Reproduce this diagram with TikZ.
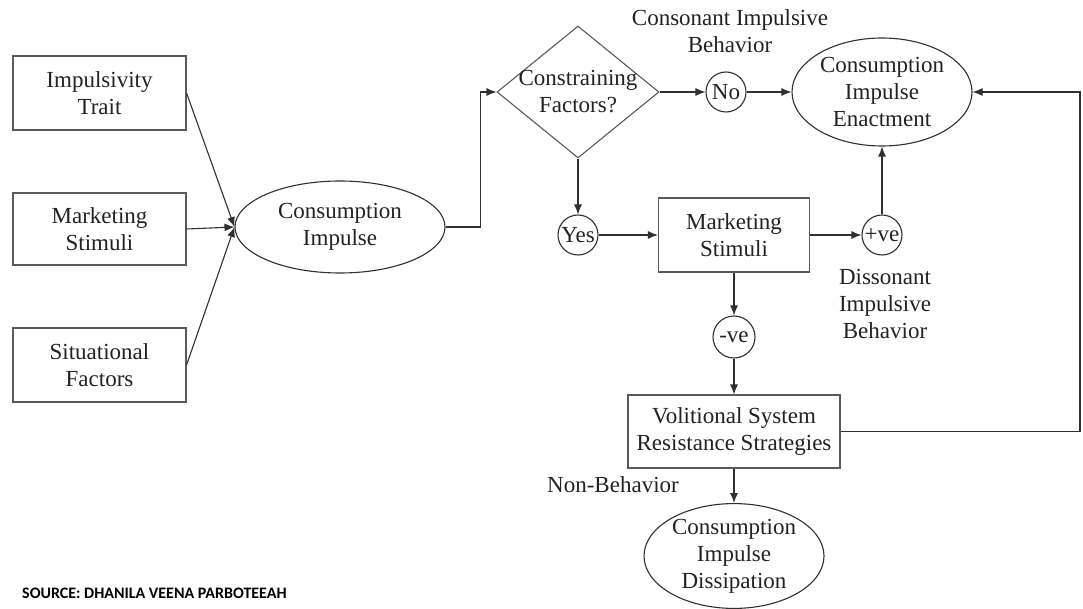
\documentclass[tikz,border=0pt]{standalone}
\usepackage{fontspec}
\setmainfont{Liberation Serif}
\newfontfamily\diagfont{Liberation Serif}
\newfontfamily\srcfont{Carlito}
\usetikzlibrary{shapes.geometric,arrows.meta}
\definecolor{ln}{HTML}{303030}
\definecolor{bx}{HTML}{5A5A5A}
\definecolor{tx}{HTML}{222222}
\begin{document}
\begin{tikzpicture}[x=1pt,y=-1pt,
  every node/.style={align=center, inner sep=0pt, text=tx, font=\diagfont\fontsize{23}{27}\selectfont},
  boxnode/.style={draw=bx, line width=1.1pt, rectangle},
  ellnode/.style={draw=ln, line width=1.1pt, ellipse},
  circnode/.style={draw=ln, line width=1.1pt, circle, minimum size=40pt},
  conn/.style={draw=ln, line width=1.1pt},
  arr/.style={conn, -{Latex[length=10pt,width=8pt]}}]
\useasboundingbox (0,0) rectangle (1083,609);
% left column
\node[boxnode, minimum width=173pt, minimum height=74pt] (imp) at (99.5,93) {Impulsivity\\Trait};
\node[boxnode, minimum width=173pt, minimum height=72pt] (ms1) at (99.5,229) {Marketing\\Stimuli};
\node[boxnode, minimum width=173pt, minimum height=74pt] (sit) at (99.5,365) {Situational\\Factors};
\node[ellnode, minimum width=210pt, minimum height=92pt] (ci) at (340,227) {Consumption\\Impulse};
% decision
\node[draw=bx, line width=1.1pt, diamond, minimum width=162pt, minimum height=132pt] (cf) at (578,92) {};
\node (cft) at (578,92) {Constraining\\Factors?};
\node[circnode] (no) at (726,92) {No};
\node[ellnode, minimum width=180pt, minimum height=108pt] (en) at (882,92) {Consumption\\Impulse\\Enactment};
\node (cons) at (730,31) {Consonant Impulsive\\Behavior};
\node[circnode] (yes) at (578,235) {Yes};
\node[boxnode, minimum width=151pt, minimum height=74pt] (ms2) at (734,235) {Marketing\\Stimuli};
\node[circnode] (pve) at (882,235) {+ve};
\node (diss) at (885,304) {Dissonant\\Impulsive\\Behavior};
\node[circnode, minimum size=42pt] (nve) at (734,337) {-ve};
\node[boxnode, minimum width=212pt, minimum height=73pt] (vol) at (734,431.5) {Volitional System\\Resistance Strategies};
\node (nonb) at (613,485) {Non-Behavior};
\node[ellnode, minimum width=180pt, minimum height=104pt] (dis) at (734,556) {Consumption\\Impulse\\Dissipation};
\node[anchor=base west, font=\srcfont\bfseries\fontsize{16}{18}\selectfont, text=black] (src) at (22,598) {SOURCE: DHANILA VEENA PARBOTEEAH};
\coordinate (rc) at (1080,431.5);
% connectors
\draw[arr] (imp.east) -- (ci.west);
\draw[arr] (ms1.east) -- (ci.west);
\draw[arr] (sit.east) -- (ci.west);
\draw[arr] (ci.east) -- ++(35,0) |- (cf.west);
\draw[arr] (cf.east) -- (no.west);
\draw[arr] (no.east) -- (en.west);
\draw[arr] (cf.south) -- (yes.north);
\draw[arr] (yes.east) -- (ms2.west);
\draw[arr] (ms2.east) -- (pve.west);
\draw[arr] (pve.north) -- (en.south);
\draw[arr] (ms2.south) -- (nve.north);
\draw[arr] (nve.south) -- (vol.north);
\draw[arr] (vol.east) -- (rc) |- (en.east);
\draw[arr] (vol.south) -- (dis.north);
\end{tikzpicture}
\end{document}
